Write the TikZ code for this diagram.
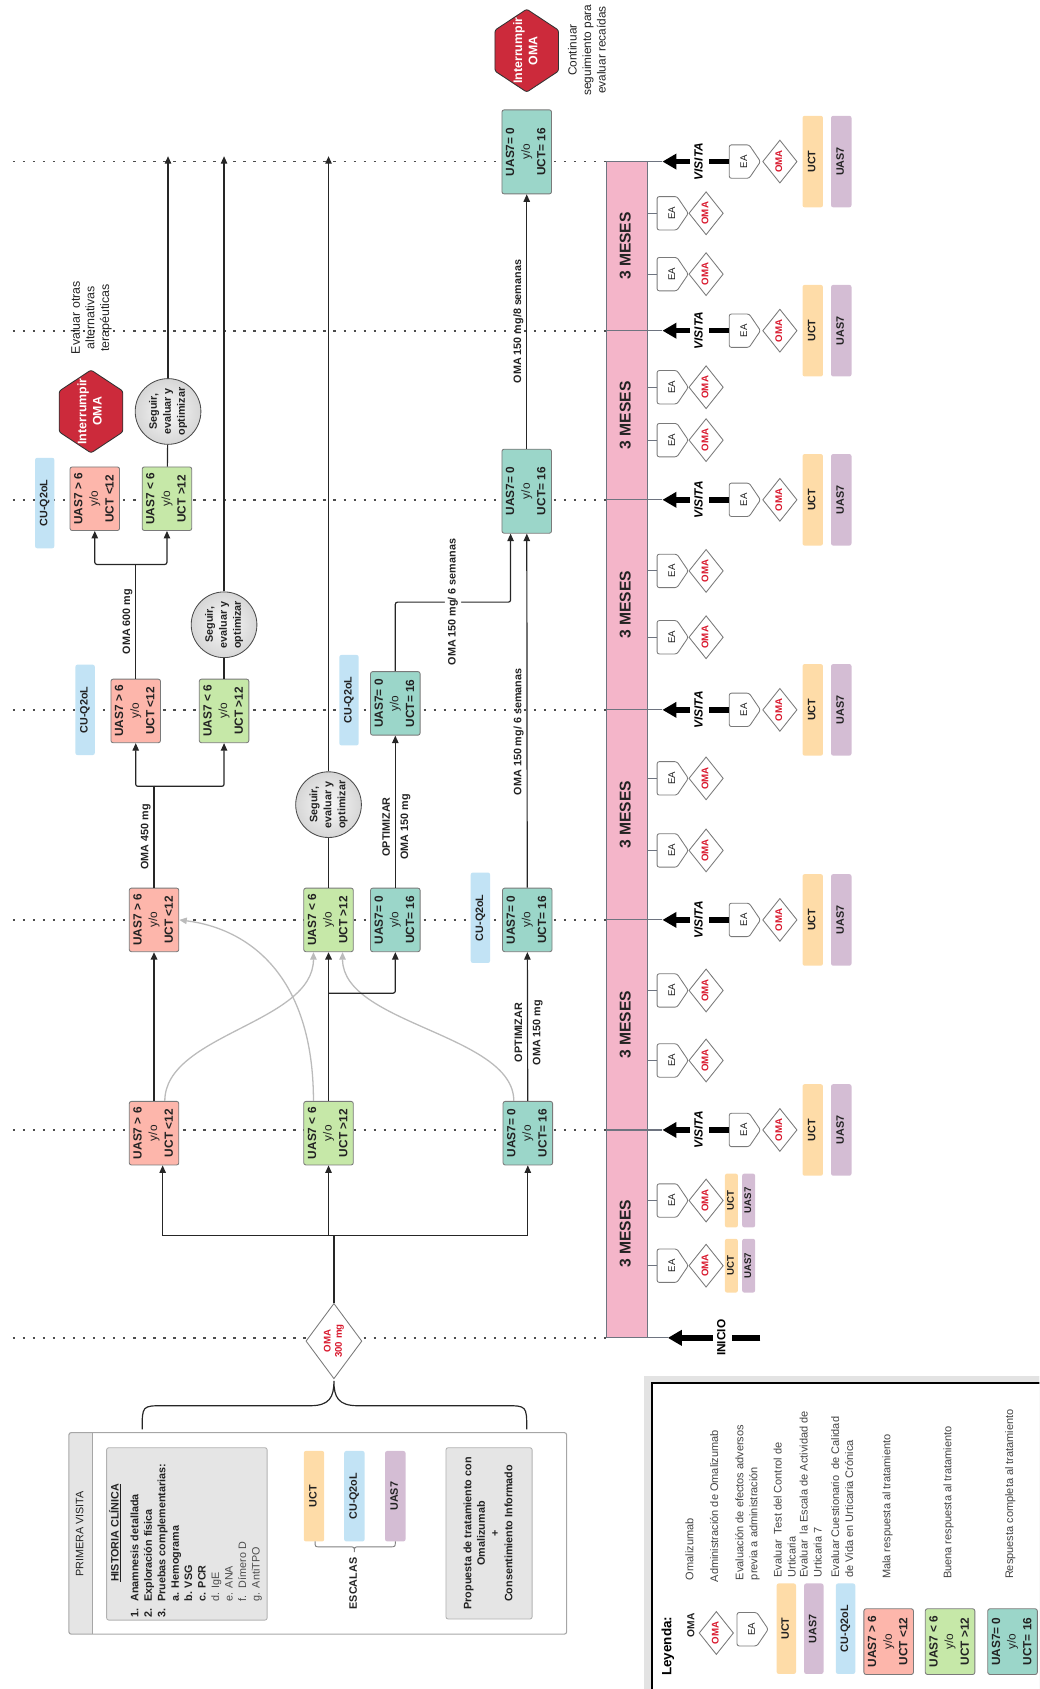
\documentclass[tikz,border=0pt]{standalone}
\usepackage{fontspec}
\setmainfont{Liberation Sans}
\usepackage{graphicx}
\usetikzlibrary{arrows.meta,shapes.geometric}
\definecolor{salmon}{HTML}{FDB6AB}
\definecolor{lgreen}{HTML}{C6E8A8}
\definecolor{teal1}{HTML}{9BD6C9}
\definecolor{tagblue}{HTML}{C2E3F5}
\definecolor{tagorange}{HTML}{FEDCA8}
\definecolor{tagpurple}{HTML}{D4BDD4}
\definecolor{pinkbar}{HTML}{F4B5C9}
\definecolor{boxgray}{HTML}{E5E5E5}
\definecolor{hexred}{HTML}{CC2A3B}
\definecolor{omared}{HTML}{D9182D}
\definecolor{txt}{HTML}{222222}
\definecolor{edge}{HTML}{7A7A7A}
\definecolor{barline}{HTML}{6E7480}
\definecolor{curvegray}{HTML}{BBBBBB}
\newcommand\fsz[2]{\fontsize{#1}{#2}\selectfont}
\newcommand\rt[1]{\rotatebox{90}{\begin{tabular}{@{}c@{}}#1\end{tabular}}}
\newcommand\rtl[1]{\rotatebox{90}{\begin{tabular}{@{}l@{}}#1\end{tabular}}}
\newcommand\malatxt{\textbf{UAS7 > 6}\\y/o\\\textbf{UCT <12}}
\newcommand\buenatxt{\textbf{UAS7 < 6}\\y/o\\\textbf{UCT >12}}
\newcommand\completatxt{\textbf{UAS7= 0}\\y/o\\\textbf{UCT= 16}}
\tikzset{
  box/.style={rectangle, draw=edge, line width=0.8pt, rounded corners=2pt, minimum width=46pt, minimum height=59pt, inner sep=0pt, text=txt, font=\fsz{11}{14.5}},
  badbox/.style={box, fill=salmon},
  goodbox/.style={box, fill=lgreen},
  fullbox/.style={box, fill=teal1},
  tagbox/.style={rectangle, rounded corners=2pt, inner sep=0pt, minimum width=18pt, minimum height=84pt, text=txt, font=\bfseries\fsz{10}{12}},
  circ/.style={circle, draw=black!70, line width=0.8pt, minimum size=61pt, inner sep=0pt, inner color=gray!5, outer color=gray!32, text=txt, font=\bfseries\fsz{10}{13}},
  omadia/.style={diamond, draw=edge, line width=0.8pt, fill=white, minimum width=32pt, minimum height=40pt, inner sep=0pt, text=omared, font=\bfseries\fsz{9}{10.5}},
  eatext/.style={minimum width=29pt, minimum height=31pt, inner sep=0pt, text=txt, font=\fsz{9}{11}},
  eashape/.style={draw=edge, line width=0.8pt, fill=white, rounded corners=2pt},
  conn/.style={draw=black!85, line width=1.1pt, rounded corners=2pt},
  thickconn/.style={conn, line width=1.7pt},
  arr/.style={conn, -{Triangle[length=7pt,width=6pt]}},
  thickarr/.style={arr, line width=1.7pt},
  grayarr/.style={draw=curvegray, line width=1.2pt, -{Triangle[length=7pt,width=6pt]}},
  dotline/.style={draw=black!70, line width=1.5pt, dash pattern=on 2.2pt off 7.1pt},
  mes/.style={rectangle, draw=barline, fill=pinkbar, line width=1pt, minimum width=38pt, inner sep=0pt, text=txt, font=\bfseries\fsz{14.5}{17}},
  visarr/.style={draw=black, line width=5pt, -{Triangle[length=13pt,width=14pt]}},
  lbl/.style={text=txt, font=\bfseries\fsz{10}{12}, inner sep=0.5pt},
  lbl2/.style={text=txt, font=\bfseries\fsz{10}{17}, inner sep=0pt},
  plain/.style={text=txt, font=\fsz{11}{13.5}, inner sep=0pt},
  legtxt/.style={text=txt!85, font=\fsz{10.2}{13}, inner sep=0pt, anchor=south},
  graybox/.style={rectangle, draw=gray!60, fill=boxgray, line width=0.8pt, rounded corners=2pt, inner sep=0pt}
}
\newcommand\EAat[3]{%
  \draw[eashape] ({#2-14.5},{#3-15.5}) -- ({#2+4},{#3-15.5}) -- ({#2+14.5},{#3}) -- ({#2+4},{#3+15.5}) -- ({#2-14.5},{#3+15.5}) -- cycle;
  \node[eatext] (#1) at (#2,#3) {\rt{EA}};}
\newcommand\HEXat[3]{%
  \fill[hexred, draw=black!80, line width=0.8pt, rounded corners=2pt] (#2,{#3-38.5}) -- ({#2+29.5},{#3-19}) -- ({#2+29.5},{#3+19}) -- (#2,{#3+38.5}) -- ({#2-29.5},{#3+19}) -- ({#2-29.5},{#3-19}) -- cycle;
  \node[text=white, font=\bfseries\fsz{11.5}{14}, inner sep=0pt] (#1) at (#2,#3) {\rt{Interrumpir\\OMA}};}
\begin{document}
\begin{tikzpicture}[x=1pt,y=-1pt]
\useasboundingbox (0,0) rectangle (965,1568);
\clip (0,0) rectangle (965,1568);

% time lines
\foreach \yy in {150,307,464,659,854,1049,1242} \draw[dotline] (12,\yy) -- (563,\yy);

% pink bar
\foreach \a/\b [count=\i] in {150/307,307/464,464/659,659/854,854/1049,1049/1242}
  \node[mes, minimum height={\b-\a}] (mes\i) at (582,{(\a+\b)/2}) {\rt{3 MESES}};

% visits
\foreach \yy [count=\i] in {150,307,464,659,854,1049} {
  \EAat{eav\i}{691.5}{\yy}
  \node[omadia] (omav\i) at (724,\yy) {\rt{OMA}};
  \node[tagbox, fill=tagorange, minimum width=19pt, minimum height=85pt] (uctv\i) at (754.5,\yy) {\rt{UCT}};
  \node[tagbox, fill=tagpurple, minimum width=19pt, minimum height=85pt] (uasv\i) at (781,\yy) {\rt{UAS7}};
  \coordinate (tipv\i) at (615,\yy);
  \draw[barline, line width=1pt] (601,\yy) -- (tipv\i);
  \draw[visarr] (eav\i.west) -- (tipv\i) node[pos=0.44, fill=white, inner sep=2.5pt, text=black, font=\bfseries\itshape\fsz{11}{13}] {\rt{VISITA}};
}
% intermediate administrations
\foreach \yy [count=\i] in {198,254.5,359.5,408.6,530,591.6,722.6,789.5,919.5,984.5,1114.5,1175} {
  \EAat{eam\i}{624.5}{\yy}
  \node[omadia] (omam\i) at (655.5,\yy) {\rt{OMA}};
  \draw[barline, line width=1pt] (601,\yy) -- (eam\i.west);
}
\foreach \yy [count=\i] in {1114.5,1175} {
  \node[tagbox, fill=tagorange, minimum width=12pt, minimum height=50pt, font=\bfseries\fsz{9}{11}] (ucts\i) at (679,\yy) {\rt{UCT}};
  \node[tagbox, fill=tagpurple, minimum width=12pt, minimum height=50pt, font=\bfseries\fsz{9}{11}] (uass\i) at (695,\yy) {\rt{UAS7}};
}
% inicio
\coordinate (tip0) at (620,1242);
\coordinate (inicio) at (706,1242);
\draw[barline, line width=1pt] (601,1242) -- (tip0);
\draw[visarr] (inicio) -- (tip0) node[pos=0.41, fill=white, inner sep=2.5pt, text=black, font=\bfseries\fsz{11}{13}] {\rt{INICIO}};

% main flow boxes
\node[badbox] (r1) at (143,1052) {\rt{\malatxt}};
\node[goodbox] (g1) at (305,1052) {\rt{\buenatxt}};
\node[fullbox] (t1) at (490,1052) {\rt{\completatxt}};
\node[badbox] (r2) at (143,854) {\rt{\malatxt}};
\node[goodbox] (g2) at (305,854) {\rt{\buenatxt}};
\node[fullbox] (t2) at (367,854) {\rt{\completatxt}};
\node[fullbox] (t3) at (489.5,854) {\rt{\completatxt}};
\node[badbox] (r3) at (126,660) {\rt{\malatxt}};
\node[goodbox] (g3) at (208,660) {\rt{\buenatxt}};
\node[fullbox] (t4) at (367,653) {\rt{\completatxt}};
\node[fullbox, minimum height=78pt] (t5) at (489,456) {\rt{\completatxt}};
\node[badbox] (r4) at (88,463) {\rt{\malatxt}};
\node[goodbox] (g4) at (155,463) {\rt{\buenatxt}};
\node[fullbox, minimum height=78pt] (t6) at (489,141) {\rt{\completatxt}};

\node[tagbox, fill=tagblue] (cq1) at (41.5,467) {\rt{CU-Q2oL}};
\node[tagbox, fill=tagblue] (cq2) at (79,659) {\rt{CU-Q2oL}};
\node[tagbox, fill=tagblue] (cq3) at (324,650) {\rt{CU-Q2oL}};
\node[tagbox, fill=tagblue] (cq4) at (446,852) {\rt{CU-Q2oL}};

\node[circ] (c1) at (156,382) {\rt{Seguir,\\evaluar y\\optimizar}};
\node[circ] (c2) at (208,580) {\rt{Seguir,\\evaluar y\\optimizar}};
\node[circ] (c3) at (305,747) {\rt{Seguir,\\evaluar y\\optimizar}};

\HEXat{h1}{84.5}{382}
\HEXat{h2}{489}{47}
\node[plain] (cont) at (546,46.5) {\rt{Continuar\\seguimiento para\\evaluar recaídas}};
\node[plain, font=\fsz{11.5}{13.5}] (evotras) at (85,295) {\rt{Evaluar otras\\alternativas\\terapéuticas}};

% OMA 300 start
\node[omadia, minimum width=51pt, minimum height=70pt] (d0) at (310,1245) {\rt{OMA\\300 mg}};
\coordinate (j0) at (310,1147);
\coordinate (jl) at (151,1147);
\coordinate (jm) at (305,1147);
\coordinate (jrr) at (490,1147);
\draw[thickconn] (d0) -- (j0);
\draw[conn] (jl) -- (jrr);
\draw[arr] (jl) -- (jl |- r1.south);
\draw[arr] (jm) -- (jm |- g1.south);
\draw[arr] (jrr) -- (jrr |- t1.south);

% gray transitions
\draw[grayarr] ([xshift=10pt]r1.north) .. controls +(0,-62) and +(0,66) .. ([xshift=-14pt]g2.south);
\draw[grayarr] ([xshift=-14pt]g1.north) .. controls +(0,-117) and +(64,8) .. (r2.east);
\draw[grayarr] ([xshift=-13pt]t1.north) .. controls +(0,-62) and +(0,67) .. ([xshift=13pt]g2.south);

% black transitions
\draw[thickarr] (r1) -- (r2);
\draw[thickarr] (g1) -- (g2);
\coordinate (jg) at (305,922);
\draw[arr] (jg) -| (t2.south);
\draw[arr] (t1) -- (t3) node[pos=0.46, lbl2] {\rt{OPTIMIZAR\\OMA 150 mg}};
\draw[arr] (t2) -- (t4) node[pos=0.4, lbl2] {\rt{OPTIMIZAR\\OMA 150 mg}};
\draw[arr] (t3) -- (t5) node[pos=0.44, left=0.5pt, lbl] {\rt{OMA 150 mg/ 6 semanas}};
\coordinate (k1) at (367,559);
\coordinate (k2) at (474,559);
\draw[arr] (t4.north) -- (k1) -- (k2) node[midway, fill=white, lbl, inner sep=1.5pt] {\rt{OMA 150 mg/ 6 semanas}} -- (k2 |- t5.south);
\draw[arr] (t5) -- (t6) node[midway, left=0.5pt, lbl] {\rt{OMA 150 mg/8 semanas}};

\coordinate (jr2) at (143,730);
\draw[conn] (r2) -- (jr2) node[midway, left=0.5pt, lbl] {\rt{OMA 450 mg}};
\draw[arr] (jr2) -| (r3.south);
\draw[arr] (jr2) -| (g3.south);
\coordinate (jr3) at (126,524);
\draw[conn] (r3) -- (jr3) node[midway, left=0.5pt, lbl] {\rt{OMA 600 mg}};
\draw[arr] (jr3) -| (r4.south);
\draw[arr] (jr3) -| (g4.south);

\coordinate (e1) at (156,145);
\coordinate (e2) at (208,145);
\coordinate (e3) at (305,145);
\draw[conn] (g4) -- (c1);
\draw[arr] (c1) -- (e1);
\draw[conn] (g3) -- (c2);
\draw[arr] (c2) -- (e2);
\draw[conn] (g2) -- (c3);
\draw[arr] (c3) -- (e3);

% brace
\draw[black!85, line width=1.1pt] (132,1327) .. controls (132,1305) .. (152,1305) -- (288,1305) .. controls (306,1305) and (310,1297) .. (310,1282) .. controls (310,1297) and (314,1305) .. (332,1305) -- (469,1305) .. controls (489,1305) .. (489,1327);

% primera visita
\fill[boxgray] (64,1330) rectangle (85.5,1517);
\draw[gray!70, line width=1pt] (85.5,1330) -- (85.5,1517);
\node[draw=gray!70, line width=1pt, rounded corners=2pt, minimum width=462pt, minimum height=187pt, inner sep=0pt] (pv) at (295,1423.5) {};
\node[text=txt, font=\fsz{10}{12}, inner sep=0pt] (pvt) at (75,1424) {\rt{PRIMERA VISITA}};
\node[graybox, minimum width=149pt, minimum height=160pt] (hist) at (173.5,1424) {};
\node[text=txt, font=\bfseries\fsz{10}{12.5}, inner sep=0pt] (histt) at (107.5,1423) {\rt{\underline{HISTORIA CLÍNICA}}};
\node[text=txt, font=\fsz{10}{12.5}, inner sep=0pt, anchor=south west] (histl) at (119.5,1502) {\rtl{%
\textbf{\makebox[15pt][l]{1.}Anamnesis detallada}\\
\textbf{\makebox[15pt][l]{2.}Exploración física}\\
\textbf{\makebox[15pt][l]{3.}Pruebas complementarias:}\\
\hspace*{15pt}\textbf{\makebox[12.5pt][l]{a.}Hemograma}\\
\hspace*{15pt}\textbf{\makebox[12.5pt][l]{b.}VSG}\\
\hspace*{15pt}\textbf{\makebox[12.5pt][l]{c.}PCR}\\
\hspace*{15pt}\textcolor{black!70}{\makebox[12.5pt][l]{d.}IgE}\\
\hspace*{15pt}\textcolor{black!70}{\makebox[12.5pt][l]{e.}ANA}\\
\hspace*{15pt}\textcolor{black!70}{\makebox[12.5pt][l]{f.}Dímero D}\\
\hspace*{15pt}\textcolor{black!70}{\makebox[12.5pt][l]{g.}AntiTPO}}};
\node[tagbox, fill=tagorange, minimum width=19pt] (esc1) at (291.5,1389) {\rt{UCT}};
\node[tagbox, fill=tagblue, minimum width=19pt] (esc2) at (329,1389) {\rt{CU-Q2oL}};
\node[tagbox, fill=tagpurple, minimum width=19pt] (esc3) at (367,1389) {\rt{UAS7}};
\draw[gray, line width=0.9pt] (292.5,1431) .. controls (292.5,1436) .. (297,1436) -- (324,1436) .. controls (329,1436) .. (329,1441) .. controls (329,1436) .. (334,1436) -- (362,1436) .. controls (367,1436) .. (367,1431);
\node[text=txt, font=\bfseries\fsz{10}{12}, inner sep=0pt] (escl) at (329,1470) {\rt{ESCALAS}};
\node[graybox, minimum width=80pt, minimum height=159pt, text=txt, font=\bfseries\fsz{10}{12.7}] (prop) at (454,1423.5) {\rt{Propuesta de tratamiento con\\Omalizumab\\+\\Consentimiento Informado}};

% legend
\fill[gray!22] (598,1277) rectangle (985,1590);
\draw[black, line width=1.6pt, fill=white] (605,1284) rectangle (985,1590);
\node[text=black, font=\bfseries\fsz{12.5}{14}, inner sep=0pt, anchor=south] (ley) at (620.5,1556) {\rt{Leyenda:}};
\node[text=txt, font=\bfseries\fsz{9.5}{11}, inner sep=0pt] (legoma) at (642.5,1509) {\rt{OMA}};
\node[legtxt] (l1) at (641,1467) {\rtl{Omalizumab}};
\node[omadia] (legdia) at (665,1516) {\rt{OMA}};
\node[legtxt] (l2) at (664,1469) {\rtl{Administración de Omalizumab}};
\EAat{legea}{698.7}{1512.5}
\node[legtxt] (l3) at (694,1467) {\rtl{Evaluación de efectos adversos\\previa a administración}};
\node[tagbox, fill=tagorange] (legu) at (730,1512) {\rt{UCT}};
\node[legtxt] (l4) at (729.5,1464.6) {\rtl{Evaluar\ \ Test del Control de\\Urticaria}};
\node[tagbox, fill=tagpurple] (lega) at (755.5,1512) {\rt{UAS7}};
\node[legtxt] (l5) at (753.7,1464.6) {\rtl{Evaluar\ \ la Escala de Actividad de\\Urticaria 7}};
\node[tagbox, fill=tagblue] (legc) at (785,1512) {\rt{CU-Q2oL}};
\node[legtxt] (l6) at (783,1464.6) {\rtl{Evaluar Cuestionario\ \ de Calidad\\de Vida en Urticaria Crónica}};
\node[badbox, minimum height=61pt] (legr) at (825,1524) {\rt{\malatxt}};
\node[legtxt] (l7) at (824,1466) {\rtl{Mala respuesta al tratamiento}};
\node[goodbox, minimum height=61pt] (legg) at (882,1524) {\rt{\buenatxt}};
\node[legtxt] (l8) at (880.6,1466) {\rtl{Buena respuesta al tratamiento}};
\node[fullbox, minimum height=61pt] (legt) at (940,1524) {\rt{\completatxt}};
\node[legtxt] (l9) at (938,1466) {\rtl{Respuesta completa al tratamiento}};
\end{tikzpicture}
\end{document}
